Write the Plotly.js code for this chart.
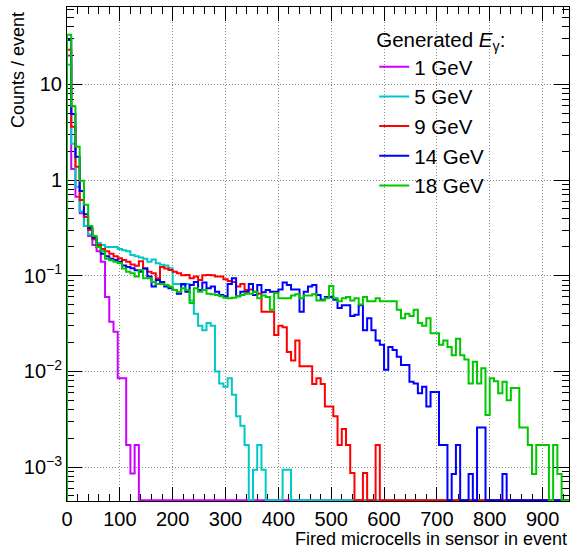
<!DOCTYPE html>
<html>
<head>
<meta charset="utf-8">
<script src="https://cdn.plot.ly/plotly-3.0.1.min.js"></script>
<style>
  html, body { margin: 0; padding: 0; background: #ffffff; }
  #chart { width: 573px; height: 548px; }
</style>
</head>
<body>
<div id="chart"></div>
<script>
// Histogram binning: 8 microcells per bin, axis shown from 0 to 950
const binWidth = 8;
const xAxisMax = 950;

const seriesNames  = ['1 GeV', '5 GeV', '9 GeV', '14 GeV', '18 GeV'];
const seriesColors = ['#cc00ff', '#00c8c8', '#ff0000', '#0000ff', '#00c800'];

// Counts per event in each bin (bin k covers [8k, 8k+8))
const counts1GeV = [
  20, 1.3, 0.67, 0.45, 0.33, 0.26, 0.21, 0.18, 0.14, 0.06,
  0.033, 0.026, 0.0085, 0.0085, 0.0017, 0.00086, 0.0017, 0, 0, 0,
  0, 0, 0, 0, 0, 0, 0, 0, 0, 0,
  0, 0, 0, 0, 0, 0, 0, 0, 0, 0,
  0, 0, 0, 0, 0, 0, 0, 0, 0, 0,
  0, 0, 0, 0, 0, 0, 0, 0, 0, 0,
  0, 0, 0, 0, 0, 0, 0, 0, 0, 0,
  0, 0, 0, 0, 0, 0, 0, 0, 0, 0,
  0, 0, 0, 0, 0, 0, 0, 0, 0, 0,
  0, 0, 0, 0, 0, 0, 0, 0, 0, 0,
  0, 0, 0, 0, 0, 0, 0, 0, 0, 0,
  0, 0, 0, 0, 0, 0, 0, 0, 0
];
const counts5GeV = [
  16, 2.4, 0.85, 0.47, 0.33, 0.27, 0.24, 0.22, 0.21, 0.2,
  0.2, 0.2, 0.19, 0.185, 0.18, 0.165, 0.16, 0.155, 0.15, 0.14,
  0.148, 0.135, 0.13, 0.128, 0.12, 0.082, 0.082, 0.08, 0.082, 0.055,
  0.04, 0.03, 0.027, 0.032, 0.03, 0.01, 0.0075, 0.0069, 0.0085, 0.0057,
  0.0034, 0.0027, 0.0017, 0, 0.00094, 0.0017, 0.00094, 0, 0, 0,
  0, 0.00094, 0.00094, 0, 0, 0, 0, 0, 0, 0,
  0, 0, 0, 0, 0, 0, 0, 0, 0, 0,
  0, 0, 0, 0, 0, 0, 0, 0, 0, 0,
  0, 0, 0, 0, 0, 0, 0, 0, 0, 0,
  0, 0, 0, 0, 0, 0, 0, 0, 0, 0,
  0, 0, 0, 0, 0, 0, 0, 0, 0, 0,
  0, 0, 0, 0, 0, 0, 0, 0, 0
];
const counts9GeV = [
  23, 3.6, 1.38, 0.62, 0.41, 0.30, 0.24, 0.21, 0.19, 0.18,
  0.17, 0.16, 0.152, 0.146, 0.14, 0.131, 0.127, 0.142, 0.119, 0.11,
  0.106, 0.094, 0.123, 0.119, 0.115, 0.11, 0.106, 0.101, 0.102, 0.094,
  0.098, 0.09, 0.101, 0.102, 0.101, 0.098, 0.098, 0.092, 0.088, 0.086,
  0.077, 0.082, 0.071, 0.072, 0.068, 0.065, 0.042, 0.042, 0.042, 0.024,
  0.030, 0.029, 0.016, 0.013, 0.021, 0.0113, 0.0113, 0.0113, 0.0074, 0.0085,
  0.0074, 0.0043, 0.0043, 0.0034, 0.0017, 0.0025, 0.0017, 0.00087, 0, 0,
  0.00087, 0, 0, 0.0017, 0, 0, 0, 0, 0, 0,
  0, 0, 0, 0, 0, 0, 0, 0, 0, 0,
  0, 0, 0, 0, 0, 0, 0, 0, 0, 0,
  0, 0, 0, 0, 0, 0, 0, 0, 0, 0,
  0, 0, 0, 0, 0, 0, 0, 0, 0
];
const counts14GeV = [
  29, 4.9, 1.75, 0.77, 0.44, 0.315, 0.25, 0.2, 0.17, 0.16,
  0.15, 0.146, 0.14, 0.128, 0.123, 0.12, 0.114, 0.11, 0.119, 0.098,
  0.077, 0.09, 0.086, 0.077, 0.074, 0.071, 0.065, 0.082, 0.068, 0.08,
  0.086, 0.071, 0.085, 0.074, 0.077, 0.068, 0.063, 0.061, 0.082, 0.094,
  0.061, 0.068, 0.068, 0.082, 0.063, 0.08, 0.067, 0.071, 0.068, 0.068,
  0.072, 0.085, 0.08, 0.072, 0.072, 0.042, 0.068, 0.077, 0.08, 0.063,
  0.056, 0.06, 0.06, 0.056, 0.046, 0.049, 0.049, 0.038, 0.039, 0.049,
  0.027, 0.036, 0.027, 0.021, 0.019, 0.0104, 0.018, 0.0167, 0.0142, 0.0117,
  0.0117, 0.0078, 0.0075, 0.0059, 0.0069, 0.0043, 0.0061, 0.0061, 0.0017, 0.0017,
  0, 0.00085, 0.0017, 0, 0, 0.00085, 0, 0.0026, 0.0026, 0,
  0, 0, 0, 0.00085, 0, 0, 0, 0, 0, 0,
  0, 0, 0, 0, 0, 0, 0, 0, 0
];
const counts18GeV = [
  33, 5.9, 2.23, 0.98, 0.55, 0.33, 0.26, 0.2, 0.18, 0.15,
  0.145, 0.14, 0.136, 0.119, 0.11, 0.106, 0.098, 0.115, 0.094, 0.094,
  0.086, 0.082, 0.082, 0.08, 0.077, 0.071, 0.068, 0.074, 0.071, 0.052,
  0.074, 0.068, 0.071, 0.065, 0.064, 0.063, 0.061, 0.059, 0.058, 0.059,
  0.061, 0.063, 0.065, 0.065, 0.068, 0.058, 0.062, 0.06, 0.044, 0.066,
  0.058, 0.058, 0.058, 0.062, 0.064, 0.058, 0.062, 0.062, 0.064, 0.055,
  0.055, 0.058, 0.078, 0.058, 0.054, 0.058, 0.06, 0.055, 0.058, 0.05,
  0.06, 0.054, 0.054, 0.058, 0.054, 0.054, 0.054, 0.054, 0.044, 0.036,
  0.04, 0.038, 0.044, 0.032, 0.03, 0.036, 0.025, 0.025, 0.019, 0.021,
  0.018, 0.0148, 0.0219, 0.0148, 0.0133, 0.0075, 0.0126, 0.0075, 0.0108, 0.0035,
  0.0085, 0.0079, 0.0059, 0.0078, 0.005, 0.0067, 0.0067, 0.0026, 0.0026, 0.0017,
  0.00085, 0.0017, 0.0017, 0.0017, 0, 0.0017, 0.00085, 0, 0
];

const allCounts = [counts1GeV, counts5GeV, counts9GeV, counts14GeV, counts18GeV];

// Log-scale y range (log10 units)
const yLogMin = -3.354;
const yLogMax = 1.808;
// empty bins are drawn along the bottom of the frame
const yFloor = Math.pow(10, yLogMin + 0.008);

// Build a ROOT-style step outline for one histogram
function stepOutline(vals) {
  const x = [0], y = [yFloor];
  vals.forEach((v, i) => { x.push(i * binWidth); y.push(v > 0 ? v : yFloor); });
  const end = vals.length * binWidth;
  const last = vals[vals.length - 1];
  x.push(end); y.push(last > 0 ? last : yFloor);
  x.push(end); y.push(yFloor);
  return { x, y };
}

const traces = allCounts.map((vals, i) => {
  const p = stepOutline(vals);
  return {
    type: 'scatter',
    mode: 'lines',
    x: p.x,
    y: p.y,
    name: seriesNames[i],
    line: { shape: 'hv', color: seriesColors[i], width: 2 },
    hoverinfo: 'skip'
  };
});

// Minor tick positions on the log axis (2..9 within each decade)
const yMinorTicks = [];
for (let d = -4; d <= 1; d++) {
  for (let m = 2; m <= 9; m++) yMinorTicks.push(m * Math.pow(10, d));
}

const fontFamily = '"Liberation Sans", Arial, Helvetica, sans-serif';

const layout = {
  width: 573,
  height: 548,
  paper_bgcolor: '#ffffff',
  plot_bgcolor: '#ffffff',
  margin: { l: 67, r: 3.5, t: 7, b: 47 },
  font: { family: fontFamily, size: 18, color: '#000000' },
  showlegend: true,
  legend: {
    x: 0.612, xanchor: 'left',
    y: 0.973, yanchor: 'top',
    bgcolor: 'rgba(255,255,255,0)',
    borderwidth: 0,
    font: { family: fontFamily, size: 20.5, color: '#000000' },
    title: { text: 'Generated <i>E</i><sub>γ</sub>:', font: { family: fontFamily, size: 20.5 } },
    itemwidth: 30
  },
  xaxis: {
    range: [0, xAxisMax],
    tickmode: 'linear', tick0: 0, dtick: 100,
    ticks: 'inside', ticklen: 14, tickwidth: 1, tickcolor: '#000000',
    showline: true, linecolor: '#000000', linewidth: 1, mirror: 'ticks',
    showgrid: true, gridcolor: '#8c8c8c', gridwidth: 1, griddash: '1px,2px',
    zeroline: false,
    layer: 'below traces',
    minor: { dtick: 20, ticks: 'inside', ticklen: 7, tickcolor: '#000000', showgrid: false },
    tickfont: { family: fontFamily, size: 20 }
  },
  yaxis: {
    type: 'log',
    range: [yLogMin, yLogMax],
    tickmode: 'array',
    tickvals: [0.001, 0.01, 0.1, 1, 10],
    ticktext: ['10<sup>−3</sup>', '10<sup>−2</sup>', '10<sup>−1</sup>', '1', '10'],
    ticks: 'inside', ticklen: 15, tickwidth: 1, tickcolor: '#000000',
    showline: true, linecolor: '#000000', linewidth: 1, mirror: 'ticks',
    showgrid: true, gridcolor: '#8c8c8c', gridwidth: 1, griddash: '1px,2px',
    zeroline: false,
    layer: 'below traces',
    minor: { tickmode: 'array', tickvals: yMinorTicks, ticks: 'inside', ticklen: 7, tickcolor: '#000000', showgrid: false },
    tickfont: { family: fontFamily, size: 20 }
  },
  annotations: [
    {
      text: 'Fired microcells in sensor in event',
      xref: 'paper', yref: 'paper',
      x: 1, xanchor: 'right',
      y: -0.077, yanchor: 'middle',
      showarrow: false,
      font: { family: fontFamily, size: 18 }
    },
    {
      text: 'Counts / event',
      xref: 'paper', yref: 'paper',
      x: -0.0975, xanchor: 'center',
      y: 0.994, yanchor: 'top',
      textangle: -90,
      showarrow: false,
      font: { family: fontFamily, size: 18 }
    }
  ]
};

Plotly.newPlot('chart', traces, layout, { staticPlot: true, displayModeBar: false });
</script>
</body>
</html>
